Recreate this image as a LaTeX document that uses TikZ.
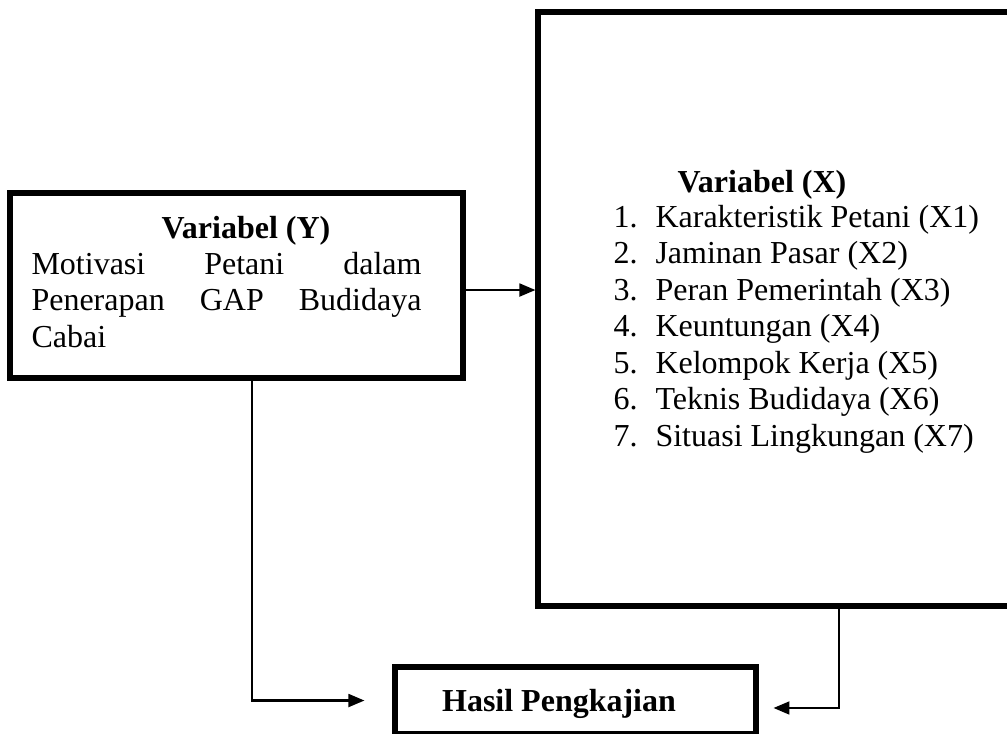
\documentclass[tikz,border=0pt]{standalone}
\usepackage{fontspec}
\setmainfont{Liberation Serif}
\usetikzlibrary{arrows.meta}

\begin{document}
\begin{tikzpicture}[x=0.375pt, y=-0.375pt,
                    box/.style={rectangle, draw, line width=1.9pt, inner sep=0pt},
                    txt/.style={inner sep=0pt, font=\fontsize{12}{13.7}\selectfont},
                    title/.style={inner sep=0pt, font=\fontsize{12}{13.7}\selectfont\bfseries},
                    conn/.style={line width=0.9pt, -{Triangle[length=6pt,width=4.8pt]}}]
    \useasboundingbox (0,0) rectangle (1007,733);
    \node [box, minimum width=169.875pt, minimum height=69.375pt] (ybox) at (236.5,285.5) {};
    \node [box, minimum width=177.75pt, minimum height=222.75pt] (xbox) at (775,309) {};
    \node [box, minimum width=135.375pt, minimum height=25.125pt] (hasil) at (575.5,700.5) {};

    \node [title, anchor=base] (ytitle) at (246,238) {Variabel (Y)};
    \node [txt, anchor=base west] (ytext) at (31,274) {\begin{tabular}[t]{@{}l@{}}
        \makebox[146.25pt][l]{Motivasi\hfill Petani\hfill dalam}\\
        \makebox[146.25pt][l]{Penerapan\hfill GAP\hfill Budidaya}\\
        Cabai
    \end{tabular}};

    \node [title, anchor=base] (xtitle) at (762,192) {Variabel (X)};
    \node [txt, anchor=base west] (xlist) at (613,227) {\begin{tabular}[t]{@{}p{15.75pt}@{}l@{}}
        1. & Karakteristik Petani (X1)\\
        2. & Jaminan Pasar (X2)\\
        3. & Peran Pemerintah (X3)\\
        4. & Keuntungan (X4)\\
        5. & Kelompok Kerja (X5)\\
        6. & Teknis Budidaya (X6)\\
        7. & Situasi Lingkungan (X7)
    \end{tabular}};

    \node [title, anchor=base] (htitle) at (559,711) {Hasil Pengkajian};

    \coordinate (yout) at ([yshift=-1.69pt]ybox.east);
    \coordinate (ltip) at ([xshift=-10.5pt]hasil.west);
    \coordinate (rtip) at ([xshift=5.6pt, yshift=-2.8pt]hasil.east);

    \draw [conn] (yout) -- (yout -| xbox.west);
    \draw [conn] ([xshift=5.8pt]ybox.south) |- (ltip);
    \draw [conn] ([xshift=24pt]xbox.south) |- (rtip);
\end{tikzpicture}
\end{document}
